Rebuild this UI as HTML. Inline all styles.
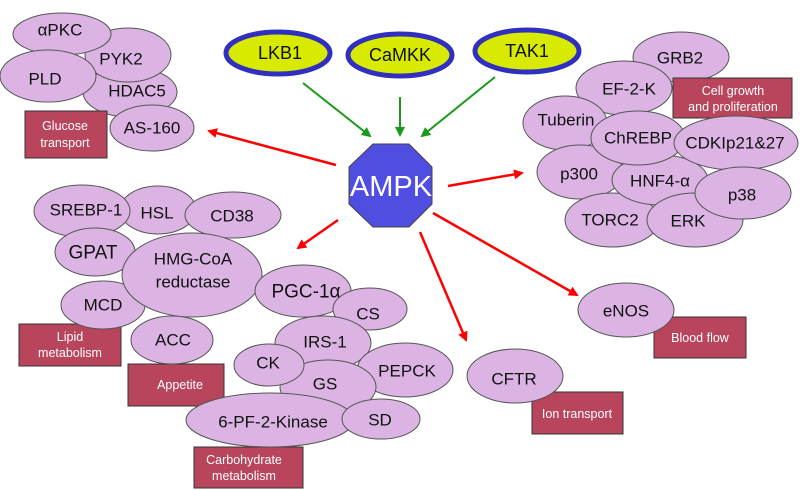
<!DOCTYPE html>
<html><head><meta charset="utf-8"><style>
html,body{margin:0;padding:0;background:#fff;}
svg{display:block;font-family:"Liberation Sans",sans-serif;}
.e{fill:#dcb4e4;stroke:#555;stroke-width:1;}
.t{font-size:17px;fill:#111;text-anchor:middle;dominant-baseline:central;}
.b{fill:#b8455c;stroke:#333;stroke-width:1;}
.bt{font-size:12.5px;fill:#fff;text-anchor:middle;dominant-baseline:central;}
.y{fill:#d8ea00;stroke:#3030c0;stroke-width:5;}
</style></head><body>
<svg width="800" height="490" viewBox="0 0 800 490" xmlns="http://www.w3.org/2000/svg">
<defs>
<marker id="ag" markerWidth="10" markerHeight="10" refX="8" refY="5" orient="auto" markerUnits="userSpaceOnUse"><path d="M0,0 L10,5 L0,10 z" fill="#1a9a1a"/></marker>
<marker id="ar" markerWidth="10" markerHeight="10" refX="8" refY="5" orient="auto" markerUnits="userSpaceOnUse"><path d="M0,0 L10,5 L0,10 z" fill="#ff0000"/></marker>
</defs>
<!-- top-left cluster -->
<ellipse class="e" cx="130" cy="92" rx="47" ry="25"/>
<ellipse class="e" cx="128" cy="55" rx="43" ry="27"/>
<ellipse class="e" cx="62" cy="34" rx="49" ry="21"/>
<ellipse class="e" cx="48" cy="76" rx="48" ry="26"/>
<rect class="b" x="25" y="111" width="82" height="47"/>
<text class="bt" x="65" y="126">Glucose</text><text class="bt" x="65" y="143">transport</text>
<ellipse class="e" cx="152" cy="128" rx="42" ry="23"/>
<text class="t" x="60" y="30">αPKC</text>
<text class="t" x="121" y="59">PYK2</text>
<text class="t" x="45" y="79">PLD</text>
<text class="t" x="137" y="91">HDAC5</text>
<text class="t" x="152" y="128">AS-160</text>
<!-- upstream kinases -->
<ellipse class="y" cx="278" cy="53" rx="52" ry="21"/>
<ellipse class="y" cx="400" cy="55" rx="52" ry="21"/>
<ellipse class="y" cx="527" cy="51" rx="52" ry="21"/>
<text class="t" x="280" y="53" style="font-size:18px">LKB1</text>
<text class="t" x="400" y="55" style="font-size:18px">CaMKK</text>
<text class="t" x="527" y="51" style="font-size:18px">TAK1</text>
<g stroke="#1a9a1a" stroke-width="2">
<line x1="303" y1="83" x2="370" y2="136" marker-end="url(#ag)"/>
<line x1="400" y1="97" x2="400" y2="135" marker-end="url(#ag)"/>
<line x1="495" y1="77" x2="422" y2="136" marker-end="url(#ag)"/>
</g>
<!-- AMPK -->
<polygon points="373,144 409,144 432,167 432,204 409,227 373,227 349,204 349,167" fill="#4f4ee0" stroke="#444" stroke-width="1"/>
<text x="391" y="187" fill="#fff" font-size="29" text-anchor="middle" dominant-baseline="central">AMPK</text>
<g stroke="#ff0000" stroke-width="2.5">
<line x1="336" y1="165" x2="209" y2="131" marker-end="url(#ar)"/>
<line x1="448" y1="186" x2="522" y2="173" marker-end="url(#ar)"/>
<line x1="338" y1="220" x2="298" y2="248" marker-end="url(#ar)"/>
<line x1="433" y1="213" x2="577" y2="295" marker-end="url(#ar)"/>
<line x1="420" y1="232" x2="466" y2="340" marker-end="url(#ar)"/>
</g>
<!-- right cluster -->
<ellipse class="e" cx="681" cy="57" rx="48" ry="25"/>
<ellipse class="e" cx="624" cy="88" rx="48" ry="27"/>
<rect class="b" x="673" y="78" width="119" height="40"/>
<text class="bt" x="733" y="91">Cell growth</text><text class="bt" x="733" y="107">and proliferation</text>
<ellipse class="e" cx="565" cy="123" rx="42" ry="27"/>
<ellipse class="e" cx="580" cy="172" rx="43" ry="27"/>
<ellipse class="e" cx="612" cy="220" rx="47" ry="27"/>
<ellipse class="e" cx="660" cy="180" rx="48" ry="25"/>
<ellipse class="e" cx="638" cy="138" rx="47" ry="27"/>
<ellipse class="e" cx="736" cy="143" rx="62" ry="27"/>
<ellipse class="e" cx="695" cy="220" rx="48" ry="27"/>
<ellipse class="e" cx="743" cy="193" rx="48" ry="26"/>
<text class="t" x="680" y="58">GRB2</text>
<text class="t" x="629" y="89">EF-2-K</text>
<text class="t" x="566" y="120">Tuberin</text>
<text class="t" x="638" y="138">ChREBP</text>
<text class="t" x="735" y="143">CDKIp21&amp;27</text>
<text class="t" x="579" y="174">p300</text>
<text class="t" x="660" y="181">HNF4-α</text>
<text class="t" x="742" y="195">p38</text>
<text class="t" x="610" y="220">TORC2</text>
<text class="t" x="688" y="221">ERK</text>
<!-- lower-left cluster -->
<ellipse class="e" cx="158" cy="210" rx="38" ry="24"/>
<ellipse class="e" cx="82" cy="211" rx="48" ry="26"/>
<ellipse class="e" cx="233" cy="215" rx="48" ry="23"/>
<ellipse class="e" cx="95" cy="252" rx="40" ry="24"/>
<rect class="b" x="19" y="324" width="102" height="42"/>
<text class="bt" x="70" y="337">Lipid</text><text class="bt" x="70" y="353">metabolism</text>
<ellipse class="e" cx="103" cy="305" rx="42" ry="24"/>
<ellipse class="e" cx="192" cy="275" rx="70" ry="42"/>
<ellipse class="e" cx="303" cy="291" rx="48" ry="26"/>
<rect class="b" x="128" y="364" width="96" height="42"/>
<text class="bt" x="180" y="385">Appetite</text>
<ellipse class="e" cx="172" cy="340" rx="41" ry="24"/>
<ellipse class="e" cx="370" cy="309" rx="37" ry="21"/>
<ellipse class="e" cx="323" cy="343" rx="48" ry="27"/>
<ellipse class="e" cx="405" cy="370" rx="48" ry="27"/>
<ellipse class="e" cx="328" cy="387" rx="48" ry="27"/>
<ellipse class="e" cx="269" cy="365" rx="35" ry="21"/>
<rect class="b" x="194" y="447" width="109" height="41"/>
<text class="bt" x="244" y="460">Carbohydrate</text><text class="bt" x="244" y="476">metabolism</text>
<ellipse class="e" cx="270" cy="420" rx="84" ry="27"/>
<ellipse class="e" cx="381" cy="419" rx="39" ry="20"/>
<text class="t" x="86" y="210">SREBP-1</text>
<text class="t" x="157" y="213">HSL</text>
<text class="t" x="232" y="216">CD38</text>
<text class="t" x="93" y="253" style="font-size:19px">GPAT</text>
<text class="t" x="193" y="259">HMG-CoA</text>
<text class="t" x="193" y="282">reductase</text>
<text class="t" x="306" y="292" style="font-size:19px">PGC-1α</text>
<text class="t" x="103" y="305">MCD</text>
<text class="t" x="173" y="340">ACC</text>
<text class="t" x="368" y="314">CS</text>
<text class="t" x="325" y="342">IRS-1</text>
<text class="t" x="407" y="371">PEPCK</text>
<text class="t" x="325" y="384">GS</text>
<text class="t" x="268" y="363">CK</text>
<text class="t" x="273" y="422">6-PF-2-Kinase</text>
<text class="t" x="380" y="420">SD</text>
<!-- eNOS / CFTR -->
<rect class="b" x="654" y="317" width="92" height="41"/>
<text class="bt" x="700" y="338">Blood flow</text>
<ellipse class="e" cx="626" cy="310" rx="48" ry="27"/>
<text class="t" x="626" y="311">eNOS</text>
<rect class="b" x="532" y="392" width="91" height="42"/>
<text class="bt" x="577" y="414">Ion transport</text>
<ellipse class="e" cx="515" cy="376" rx="48" ry="27"/>
<text class="t" x="514" y="379">CFTR</text>
</svg>
</body></html>
